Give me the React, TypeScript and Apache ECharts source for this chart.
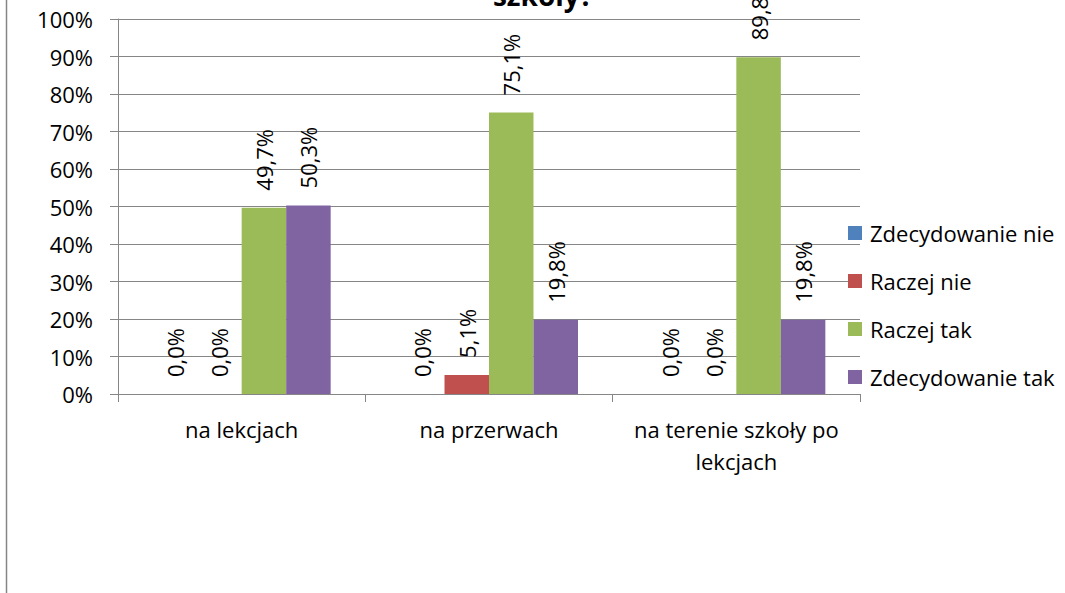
import React, { useEffect, useRef } from "react";
import * as echarts from "echarts";

const categories = ["na lekcjach", "na przerwach", "na terenie szkoły po\nlekcjach"];
const seriesNames = ["Zdecydowanie nie", "Raczej nie", "Raczej tak", "Zdecydowanie tak"];
const zdecydowanieNie = [0, 0, 0];
const raczejNie = [0, 5.1, 0];
const raczejTak = [49.7, 75.1, 89.8];
const zdecydowanieTak = [50.3, 19.8, 19.8];
const colors = ["#4F81BD", "#C0504D", "#9BBB59", "#8064A2"];
const titleText = "szkoły?";

const FONT = "'Open Sans', 'Noto Sans', sans-serif";
const GRID_COLOR = "#868686";

export default function App() {
  const ref = useRef<HTMLDivElement>(null);
  useEffect(() => {
    if (!ref.current) return;
    const chart = echarts.init(ref.current, undefined, { renderer: "svg" });
    const values = [zdecydowanieNie, raczejNie, raczejTak, zdecydowanieTak];
    const fmt = (p: any) => Number(p.value).toFixed(1).replace(".", ",") + "%";
    chart.setOption({
      animation: false,
      backgroundColor: "#ffffff",
      textStyle: { fontFamily: FONT, color: "#000" },
      grid: { left: 118, top: 19, width: 742, height: 375 },
      legend: {
        orient: "vertical",
        left: 843,
        top: 217,
        itemWidth: 14,
        itemHeight: 14,
        itemGap: 26,
        icon: "rect",
        data: seriesNames,
        textStyle: { fontFamily: FONT, fontSize: 22, color: "#000", lineHeight: 22, padding: [0, 0, 0, 3] },
      },
      xAxis: {
        type: "category",
        data: categories,
        axisLine: { lineStyle: { color: GRID_COLOR, width: 1 } },
        axisTick: { show: true, length: 8, lineStyle: { color: GRID_COLOR } },
        axisLabel: { fontFamily: FONT, fontSize: 22, color: "#000", margin: 19, lineHeight: 32, interval: 0 },
      },
      yAxis: {
        type: "value",
        min: 0,
        max: 100,
        interval: 10,
        axisLine: { show: true, lineStyle: { color: GRID_COLOR, width: 1 } },
        axisTick: { show: true, length: 8, lineStyle: { color: GRID_COLOR } },
        splitLine: { lineStyle: { color: GRID_COLOR, width: 1 } },
        axisLabel: { fontFamily: FONT, fontSize: 22, color: "#000", margin: 25, formatter: "{value}%" },
      },
      series: seriesNames.map((name, i) => ({
        name,
        type: "bar",
        data: values[i],
        barWidth: 44.5,
        barGap: "0%",
        itemStyle: { color: colors[i] },
        label: {
          show: true,
          position: "top",
          rotate: 90,
          align: "left",
          verticalAlign: "middle",
          distance: 17,
          fontFamily: FONT,
          fontSize: 22,
          color: "#000",
          formatter: fmt,
        },
      })),
      graphic: [
        {
          type: "line",
          shape: { x1: 6.5, y1: 0, x2: 6.5, y2: 593 },
          style: { stroke: GRID_COLOR, lineWidth: 1.5 },
        },
        {
          type: "text",
          x: 543,
          y: 9,
          style: {
            text: titleText,
            fontFamily: FONT,
            fontSize: 28,
            fontWeight: "bold",
            fill: "#000",
            textAlign: "center",
            textVerticalAlign: "bottom",
          },
        },
      ],
    });
    return () => chart.dispose();
  }, []);
  return <div ref={ref} style={{ position: "fixed", left: 0, top: 0, width: 1065, height: 593 }} />;
}
